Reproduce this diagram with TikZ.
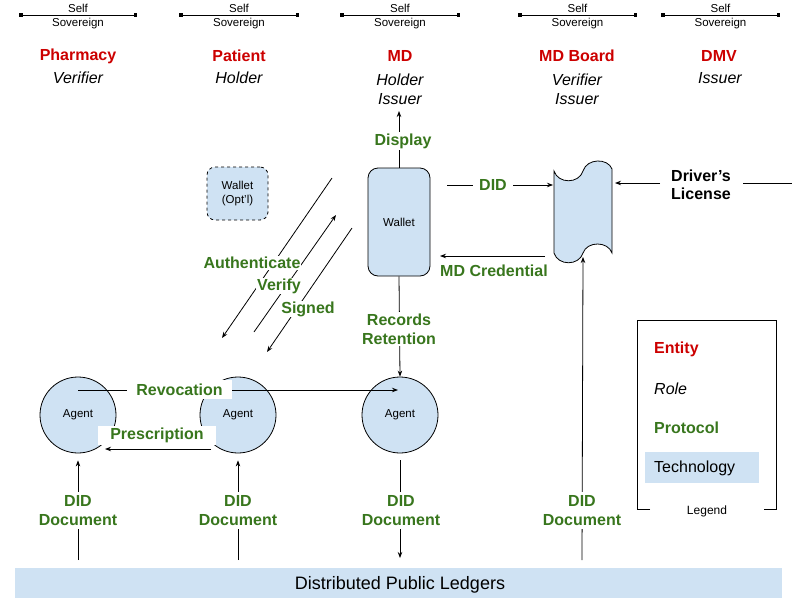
\documentclass[tikz,border=0pt]{standalone}
\usepackage{fontspec}
\setmainfont{Liberation Sans}
\usetikzlibrary{arrows.meta}
\definecolor{entred}{HTML}{CC0000}
\definecolor{protgreen}{HTML}{38761D}
\definecolor{techblue}{HTML}{CFE2F3}
\begin{document}
\begin{tikzpicture}[x=1pt,y=-1pt,
  ent/.style={text=entred,font=\fontsize{16}{19}\selectfont\bfseries,inner sep=0pt},
  role/.style={font=\fontsize{16}{19}\selectfont\itshape,align=center,inner sep=0pt},
  prot/.style={text=protgreen,font=\fontsize{16}{19}\selectfont\bfseries,fill=white,inner sep=1.5pt,align=center},
  small/.style={font=\fontsize{11.5}{14}\selectfont,inner sep=0pt,align=center},
  ln/.style={line width=0.8pt},
  arr/.style={ln,-{Stealth[length=6pt,width=4.5pt]}},
  bar/.style={line width=0.8pt,{Square[length=3.5pt,width=3.5pt]}-{Square[length=3.5pt,width=3.5pt]}},
  agent/.style={circle,draw,fill=techblue,minimum size=76pt,inner sep=0pt,font=\fontsize{11.5}{14}\selectfont,line width=0.8pt}
]
\useasboundingbox (0,0) rectangle (800,600);

% Self sovereign bars
\foreach \xa/\xb/\n in {19/137/1,179/299/2,340/460/3,518/637/4,661/780/5}{
  \coordinate (sl\n) at (\xa,15);
  \coordinate (sr\n) at (\xb,15);
  \draw[bar] (sl\n) -- (sr\n);
  \node[small] (self\n) at ({(\xa+\xb)/2},8.5) {Self};
  \node[small] (sov\n) at ({(\xa+\xb)/2},24) {Sovereign};
}

% Entities and roles
\node[ent] (e1) at (78,56) {Pharmacy};
\node[ent] (e2) at (239,56) {Patient};
\node[ent] (e3) at (400,56) {MD};
\node[ent] (e4) at (577,56) {MD Board};
\node[ent] (e5) at (719,56) {DMV};
\node[role] (r1) at (78,78) {Verifier};
\node[role] (r2) at (239,78) {Holder};
\node[role] (r3) at (400,89.5) {Holder\\Issuer};
\node[role] (r4) at (577,89.5) {Verifier\\Issuer};
\node[role] (r5) at (720,78) {Issuer};

% Wallets
\node[draw,dashed,fill=techblue,rounded corners=8pt,minimum width=61pt,minimum height=53pt,line width=0.8pt,small] (wopt) at (237.5,193.5) {Wallet\\(Opt’l)};
\node[draw,fill=techblue,rounded corners=10pt,minimum width=62pt,minimum height=108pt,line width=0.8pt,small] (wal) at (399,222) {Wallet};

% Credential document shape
\draw[ln,fill=techblue] (554,171) .. controls (558,184) and (579,184) .. (583,171)
  .. controls (587,158) and (608,158) .. (612,169) -- (612,253)
  .. controls (608,241) and (587,241) .. (583,253)
  .. controls (579,266) and (558,266) .. (554,253) -- cycle;
\coordinate (docL) at (553,185);
\coordinate (docR) at (615,183);
\coordinate (docB) at (583,257);
\coordinate (docC) at (545,256);

% Agents
\node[agent] (a1) at (78,415) {Agent};
\node[agent] (a2) at (238,415) {Agent};
\node[agent] (a3) at (400,415) {Agent};

% Display
\coordinate (disp) at (399,111);
\draw[arr] (wal.north) -- (disp);
\node[prot] (pdisp) at (403,141) {Display};

% DID to doc
\coordinate (didS) at (447,185);
\draw[arr] (didS) -- (docL);
\node[prot,inner xsep=6pt] (pdid) at (493,185) {DID};

% Driver's license
\coordinate (dlS) at (660,183);
\coordinate (dlA) at (743,183);
\coordinate (dlB) at (792,183);
\draw[arr] (dlS) -- (docR);
\draw[ln] (dlA) -- (dlB);
\node[font=\fontsize{16}{18}\selectfont\bfseries,align=center,inner sep=0pt] (pdl) at (701,185) {Driver’s\\License};

% MD credential
\coordinate (mdcE) at (440,256);
\draw[arr] (docC) -- (mdcE);
\node[prot,fill=none] (pmdc) at (494,271) {MD Credential};

% Records retention
\draw[arr] (wal.south) -- (a3.north);
\node[prot,align=center] (prr) at (399,329) {Records\\Retention};

% Diagonals
\coordinate (d1a) at (332,178); \coordinate (d1b) at (222,338);
\coordinate (d2a) at (254,332); \coordinate (d2b) at (336,215);
\coordinate (d3a) at (352,228); \coordinate (d3b) at (267,352);
\draw[arr] (d1a) -- (d1b);
\draw[arr] (d2a) -- (d2b);
\draw[arr] (d3a) -- (d3b);
\node[prot,inner sep=1pt] (pauth) at (252,263) {Authenticate};
\node[prot,inner sep=1pt] (pver) at (279,286) {Verify};
\node[prot,inner sep=1pt] (psig) at (308,309) {Signed};

% Revocation & Prescription
\coordinate (rv1) at (78,390);
\coordinate (rv3) at (398,390);
\draw[arr] (rv1) -- (rv3);
\node[prot,minimum width=105pt,minimum height=19pt,inner sep=0pt] (prev) at (179.5,389.5) {Revocation};
\coordinate (ps2) at (211,449);
\coordinate (ps1) at (105,449);
\draw[arr] (ps2) -- (ps1);
\node[prot,minimum width=118pt,minimum height=19pt,inner sep=0pt] (ppre) at (157,435.5) {Prescription};

% DID Documents
\coordinate (b1) at (78,560);
\coordinate (b2) at (238,560);
\coordinate (b3) at (400,558);
\coordinate (b4) at (582,560);
\draw[arr,shorten >=7pt] (b1) -- (a1.south);
\draw[arr,shorten >=7pt] (b2) -- (a2.south);
\draw[arr,shorten <=7pt] (a3.south) -- (b3);
\draw[arr] (b4) -- (docB);
\node[prot,inner ysep=3pt] (dd1) at (78,510.5) {DID\\Document};
\node[prot,inner ysep=3pt] (dd2) at (238,510.5) {DID\\Document};
\node[prot,inner ysep=3pt] (dd3) at (401,510.5) {DID\\Document};
\node[prot,inner ysep=3pt] (dd4) at (582,510.5) {DID\\Document};

% Ledger
\node[fill=techblue,minimum width=767pt,minimum height=30pt,inner sep=0pt] (ledger) at (398.5,583) {};
\node[font=\fontsize{18}{20}\selectfont,inner sep=0pt] (ledgertxt) at (400,585) {Distributed Public Ledgers};

% Legend
\draw[ln] (650,509) -- (637,509) -- (637,320) -- (776,320) -- (776,509) -- (764,509);
\node[small,font=\fontsize{12}{14}\selectfont] (leg) at (707,511) {Legend};
\node[ent,anchor=west] (lent) at (654,349) {Entity};
\node[role,anchor=west] (lrole) at (654,389) {Role};
\node[prot,fill=none,inner sep=0pt,anchor=west] (lprot) at (654,428) {Protocol};
\node[fill=techblue,minimum width=114pt,minimum height=31pt,inner sep=0pt] (ltechbox) at (702,467.5) {};
\node[anchor=west,inner sep=0pt,font=\fontsize{16}{19}\selectfont] (ltech) at (654,468) {Technology};
\end{tikzpicture}
\end{document}
